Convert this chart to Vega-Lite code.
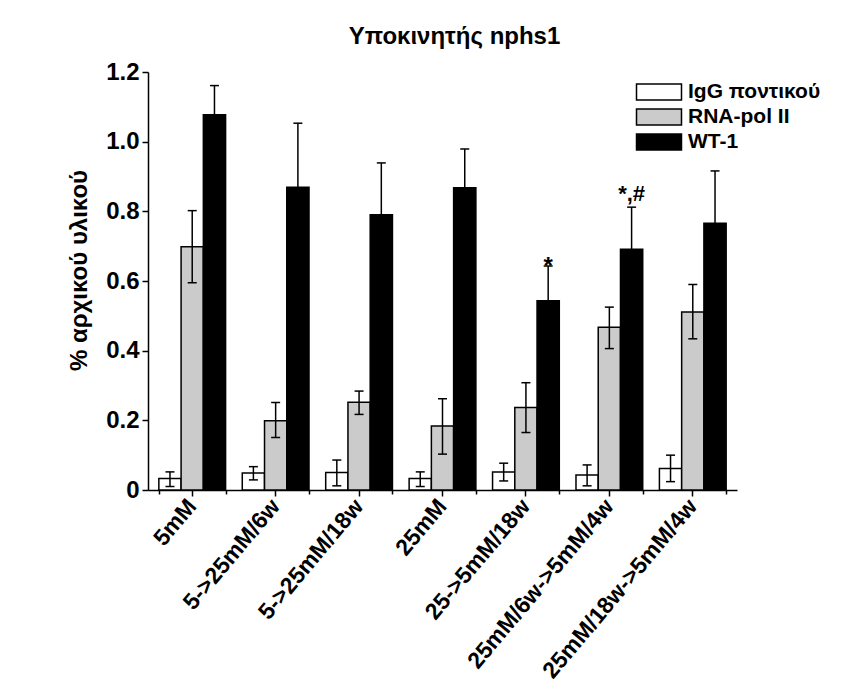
{
  "$schema": "https://vega.github.io/schema/vega-lite/v6.json",
  "width": 589,
  "height": 418,
  "autosize": {"type": "none"},
  "padding": {"left": 148, "top": 72, "right": 128, "bottom": 206},
  "background": "white",
  "title": {
    "text": "Υποκινητής nphs1",
    "font": "Liberation Sans",
    "fontSize": 24,
    "fontWeight": "bold",
    "color": "black",
    "anchor": "middle",
    "baseline": "alphabetic",
    "dx": 12,
    "dy": 30,
    "offset": 22
  },
  "config": {
    "view": {"stroke": null},
    "font": "Liberation Sans",
    "axis": {
      "domainColor": "black",
      "domainWidth": 1.5,
      "tickColor": "black",
      "tickWidth": 1.5,
      "labelColor": "black",
      "titleColor": "black",
      "labelFont": "Liberation Sans",
      "titleFont": "Liberation Sans",
      "labelFontWeight": "bold",
      "titleFontWeight": "bold",
      "grid": false
    }
  },
  "resolve": {"axis": {"x": "independent"}},
  "data": {
    "values": [
      {"group": "5mM", "series": "IgG ποντικού", "value": 0.033, "lo": 0.010, "hi": 0.052, "mark": ""},
      {"group": "5mM", "series": "RNA-pol II", "value": 0.698, "lo": 0.595, "hi": 0.802, "mark": ""},
      {"group": "5mM", "series": "WT-1", "value": 1.077, "lo": 0.993, "hi": 1.161, "mark": ""},
      {"group": "5->25mM/6w", "series": "IgG ποντικού", "value": 0.049, "lo": 0.029, "hi": 0.067, "mark": ""},
      {"group": "5->25mM/6w", "series": "RNA-pol II", "value": 0.199, "lo": 0.151, "hi": 0.251, "mark": ""},
      {"group": "5->25mM/6w", "series": "WT-1", "value": 0.869, "lo": 0.685, "hi": 1.053, "mark": ""},
      {"group": "5->25mM/18w", "series": "IgG ποντικού", "value": 0.050, "lo": 0.012, "hi": 0.086, "mark": ""},
      {"group": "5->25mM/18w", "series": "RNA-pol II", "value": 0.252, "lo": 0.217, "hi": 0.284, "mark": ""},
      {"group": "5->25mM/18w", "series": "WT-1", "value": 0.790, "lo": 0.641, "hi": 0.939, "mark": ""},
      {"group": "25mM", "series": "IgG ποντικού", "value": 0.033, "lo": 0.010, "hi": 0.052, "mark": ""},
      {"group": "25mM", "series": "RNA-pol II", "value": 0.184, "lo": 0.103, "hi": 0.262, "mark": ""},
      {"group": "25mM", "series": "WT-1", "value": 0.868, "lo": 0.757, "hi": 0.979, "mark": ""},
      {"group": "25->5mM/18w", "series": "IgG ποντικού", "value": 0.052, "lo": 0.026, "hi": 0.077, "mark": ""},
      {"group": "25->5mM/18w", "series": "RNA-pol II", "value": 0.237, "lo": 0.165, "hi": 0.308, "mark": ""},
      {"group": "25->5mM/18w", "series": "WT-1", "value": 0.543, "lo": 0.443, "hi": 0.643, "mark": "*"},
      {"group": "25mM/6w->5mM/4w", "series": "IgG ποντικού", "value": 0.043, "lo": 0.012, "hi": 0.072, "mark": ""},
      {"group": "25mM/6w->5mM/4w", "series": "RNA-pol II", "value": 0.467, "lo": 0.406, "hi": 0.525, "mark": ""},
      {"group": "25mM/6w->5mM/4w", "series": "WT-1", "value": 0.691, "lo": 0.570, "hi": 0.812, "mark": "*,#"},
      {"group": "25mM/18w->5mM/4w", "series": "IgG ποντικού", "value": 0.062, "lo": 0.024, "hi": 0.100, "mark": ""},
      {"group": "25mM/18w->5mM/4w", "series": "RNA-pol II", "value": 0.511, "lo": 0.434, "hi": 0.590, "mark": ""},
      {"group": "25mM/18w->5mM/4w", "series": "WT-1", "value": 0.766, "lo": 0.616, "hi": 0.916, "mark": ""}
    ]
  },
  "encoding": {
    "xOffset": {"field": "series", "type": "nominal", "sort": null, "scale": {"paddingInner": 0, "paddingOuter": 0}}
  },
  "layer": [
    {
      "mark": {"type": "bar", "stroke": "black", "strokeWidth": 1.5},
      "encoding": {
        "x": {
          "field": "group",
          "type": "nominal",
          "sort": null,
          "scale": {"paddingInner": 0.2, "paddingOuter": 0.13},
          "axis": {
            "title": null,
            "orient": "bottom",
            "labelAngle": -50,
            "labelAlign": "right",
            "labelBaseline": "middle",
            "labelFontSize": 23,
            "labelPadding": 6,
            "tickSize": 6,
            "labelLimit": 0
          }
        },
        "y": {
          "field": "value",
          "type": "quantitative",
          "scale": {"domain": [0, 1.2], "nice": false, "zero": true},
          "axis": {
            "values": [0, 0.1, 0.2, 0.3, 0.4, 0.5, 0.6, 0.7, 0.8, 0.9, 1.0, 1.1, 1.2],
            "labelExpr": "round(datum.value*10) % 2 == 0 ? (datum.value == 0 ? '0' : format(datum.value, '.1f')) : ''",
            "labelOverlap": false,
            "labelFlush": false,
            "labelFontSize": 24,
            "labelPadding": 3,
            "tickSize": 6,
            "title": "% αρχικού υλικού",
            "titleFontSize": 24,
            "titlePadding": 14,
            "titleY": 198
          }
        },
        "fill": {
          "field": "series",
          "type": "nominal",
          "sort": null,
          "scale": {"range": ["white", "#cbcbcb", "black"]},
          "legend": {
            "title": null,
            "orient": "none",
            "legendX": 499,
            "legendY": 8,
            "padding": 0,
            "symbolType": "M-2,-0.72H2V0.72H-2Z",
            "symbolSize": 506,
            "symbolStrokeColor": "black",
            "symbolStrokeWidth": 1.5,
            "symbolOpacity": 1,
            "labelFont": "Liberation Sans",
            "labelFontSize": 21,
            "labelFontWeight": "bold",
            "labelColor": "black",
            "labelOffset": 17,
            "labelLimit": 0,
            "rowPadding": 1
          }
        }
      }
    },
    {
      "mark": {"type": "rule", "color": "black", "strokeWidth": 1.5},
      "encoding": {
        "x": {
          "field": "group",
          "type": "nominal",
          "sort": null,
          "axis": {
            "title": null,
            "orient": "bottom",
            "tickBand": "extent",
            "labels": false,
            "domain": false,
            "tickSize": 4
          }
        },
        "y": {"field": "lo", "type": "quantitative"},
        "y2": {"field": "hi"}
      }
    },
    {
      "mark": {"type": "tick", "color": "black", "thickness": 1.5, "size": 9, "opacity": 1},
      "encoding": {
        "x": {"field": "group", "type": "nominal", "sort": null, "axis": null},
        "y": {"field": "lo", "type": "quantitative"}
      }
    },
    {
      "mark": {"type": "tick", "color": "black", "thickness": 1.5, "size": 9, "opacity": 1},
      "encoding": {
        "x": {"field": "group", "type": "nominal", "sort": null, "axis": null},
        "y": {"field": "hi", "type": "quantitative"}
      }
    },
    {
      "transform": [{"filter": "datum.mark == '*'"}],
      "mark": {"type": "text", "font": "Liberation Sans", "fontSize": 24, "fontWeight": "bold", "color": "black", "baseline": "alphabetic", "dy": 8},
      "encoding": {
        "x": {"field": "group", "type": "nominal", "sort": null, "axis": null},
        "y": {"field": "hi", "type": "quantitative"},
        "text": {"field": "mark"}
      }
    },
    {
      "transform": [{"filter": "datum.mark == '*,#'"}],
      "mark": {"type": "text", "font": "Liberation Sans", "fontSize": 22, "fontWeight": "bold", "color": "black", "baseline": "alphabetic", "dy": -6},
      "encoding": {
        "x": {"field": "group", "type": "nominal", "sort": null, "axis": null},
        "y": {"field": "hi", "type": "quantitative"},
        "text": {"field": "mark"}
      }
    }
  ]
}
